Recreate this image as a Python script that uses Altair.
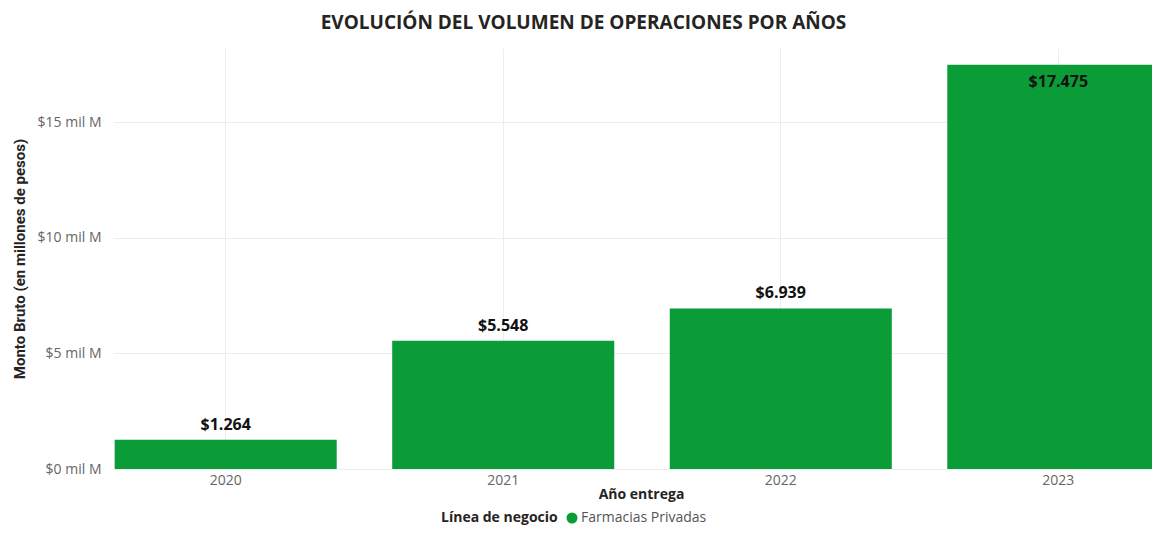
import altair as alt
import pandas as pd

years = ["2020", "2021", "2022", "2023"]
montos = [1264, 5548, 6939, 17475]
linea = ["Farmacias Privadas"] * 4
y_ticks = [0, 5000, 10000, 15000]

df = pd.DataFrame({"anio": years, "monto": montos, "linea": linea})

GREEN = "#0A9C37"
GRID = "#EDEDED"
DARK = "#252423"
GRAY = "#666666"

base = alt.Chart(df)

x_enc = alt.X(
    "anio:N",
    scale=alt.Scale(range=[0, 1058], paddingInner=0.2, paddingOuter=0.006),
    axis=alt.Axis(
        title="Año entrega",
        titleX=528,
        labelAngle=0,
        domain=False,
        ticks=False,
        grid=True,
        gridColor=GRID,
        bandPosition=0.5,
        labelPadding=4,
        labelFont="Open Sans",
        labelFontSize=14,
        labelColor=GRAY,
        titleFont="Open Sans",
        titleFontSize=14,
        titleFontWeight="bold",
        titleColor=DARK,
        titlePadding=0,
    ),
)

y_enc = alt.Y(
    "monto:Q",
    scale=alt.Scale(domain=[0, 18200], nice=False),
    axis=alt.Axis(
        values=y_ticks,
        labelExpr="'$' + format(datum.value / 1000, 'd') + ' mil M'",
        title="Monto Bruto (en millones de pesos)",
        domain=False,
        ticks=False,
        grid=True,
        gridColor=GRID,
        labelPadding=12,
        minExtent=77,
        maxExtent=77,
        labelFont="Open Sans",
        labelFontSize=14,
        labelColor=GRAY,
        titleFont="Roboto",
        titleFontSize=15,
        titleFontWeight="bold",
        titleColor=DARK,
        titlePadding=9,
    ),
)

bars = base.mark_bar(clip=True).encode(
    x=x_enc,
    y=y_enc,
    color=alt.Color(
        "linea:N",
        scale=alt.Scale(range=[GREEN]),
        legend=alt.Legend(
            title="Línea de negocio",
            orient="none",
            direction="horizontal",
            titleOrient="left",
            legendX=328,
            legendY=463,
            symbolType="circle",
            symbolSize=121,
            symbolStrokeWidth=0,
            titleFont="Open Sans",
            titleFontSize=14,
            titleFontWeight="bold",
            titleColor=DARK,
            titlePadding=7,
            labelFont="Open Sans",
            labelFontSize=14,
            labelColor="#555555",
            labelOffset=2,
        ),
    ),
)

label_style = dict(font="Open Sans", fontSize=16, fontWeight="bold", color="#111111", baseline="alphabetic")

labels_out = base.transform_filter("datum.monto < 16000").mark_text(dy=-10, **label_style).encode(
    x=alt.X("anio:N"), y=alt.Y("monto:Q"), text=alt.Text("monto:Q", format="$,.0f")
)

labels_in = base.transform_filter("datum.monto >= 16000").mark_text(dy=22, **label_style).encode(
    x=alt.X("anio:N"), y=alt.Y("monto:Q"), text=alt.Text("monto:Q", format="$,.0f")
)

chart = (
    alt.layer(bars, labels_out, labels_in)
    .properties(
        width=1039,
        height=421,
        autosize=alt.AutoSizeParams(type="none"),
        padding={"left": 105, "top": 40, "right": 0, "bottom": 59},
        title=alt.TitleParams(
            text="EVOLUCIÓN DEL VOLUMEN DE OPERACIONES POR AÑOS",
            anchor="middle",
            frame="group",
            dx=-49,
            font="Open Sans",
            fontSize=19,
            fontWeight="bold",
            color=DARK,
            offset=15,
        ),
    )
    .configure(
        locale={"number": {"decimal": ",", "thousands": ".", "grouping": [3], "currency": ["$", ""]}}
    )
    .configure_view(stroke=None)
)

chart.save("out.html", embed_options={"renderer": "svg", "actions": False})
